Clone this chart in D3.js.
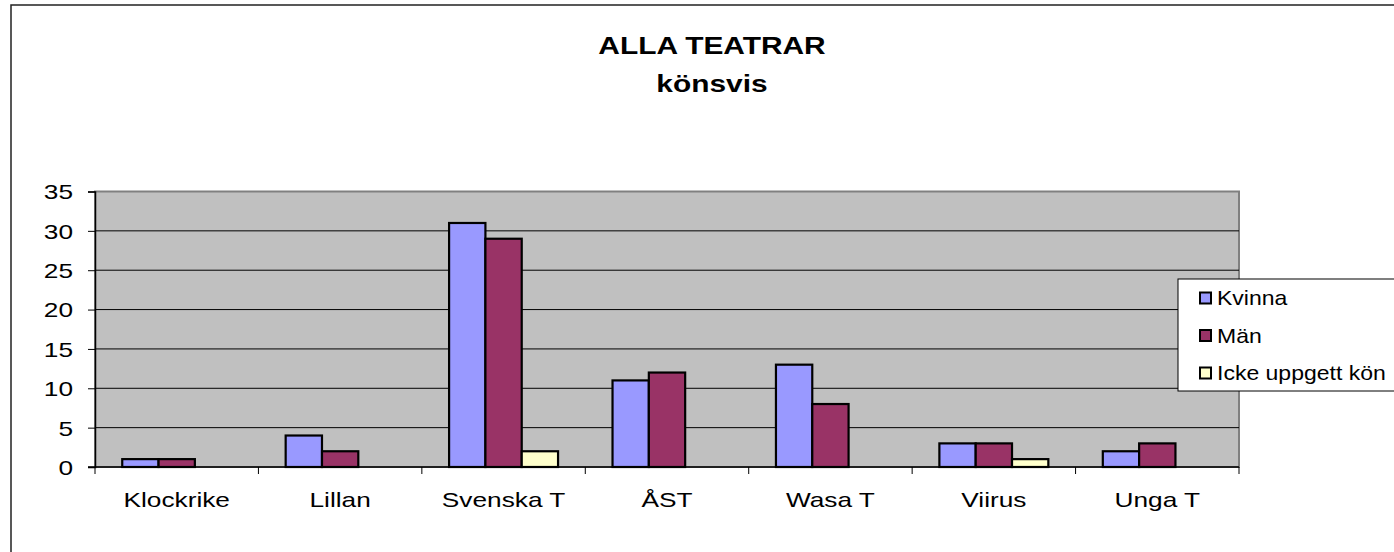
<!DOCTYPE html>
<html>
<head>
<meta charset="utf-8">
<script src="https://cdn.jsdelivr.net/npm/d3@7"></script>
<style>
  html, body { margin: 0; padding: 0; background: #ffffff; }
  svg { display: block; }
  text { font-family: "Liberation Sans", Arial, sans-serif; fill: #000; }
</style>
</head>
<body>
<svg id="chart" width="1394" height="552"></svg>
<script>
const categories = ["Klockrike", "Lillan", "Svenska T", "ÅST", "Wasa T", "Viirus", "Unga T"];
const seriesNames = ["Kvinna", "Män", "Icke uppgett kön"];
const kvinna = [1, 4, 31, 11, 13, 3, 2];
const man = [1, 2, 29, 12, 8, 3, 3];
const ickeUppgett = [0, 0, 2, 0, 0, 1, 0];
const yTicks = [0, 5, 10, 15, 20, 25, 30, 35];
const titleLines = ["ALLA TEATRAR", "könsvis"];
const colors = ["#9999FF", "#993366", "#FFFFCC"];

const seriesValues = [kvinna, man, ickeUppgett];
const data = categories.map((c, i) => ({
  cat: c,
  vals: seriesNames.map((s, j) => ({ series: s, idx: j, value: seriesValues[j][i] }))
}));

const svg = d3.select("#chart");
const SX = 1.25; // horizontal stretch of the reference's text

// outer chart frame
svg.append("rect").attr("x", 11).attr("y", 5).attr("width", 1400).attr("height", 560)
  .attr("fill", "#fff").attr("stroke", "#222").attr("stroke-width", 1.5);

const plot = { left: 95, right: 1239, top: 191.5, bottom: 467 };

const x = d3.scaleBand().domain(categories).range([plot.left, plot.right]).paddingInner(0).paddingOuter(0);
const inner = d3.scaleBand().domain(seriesNames).range([0, x.bandwidth()]).paddingInner(0).paddingOuter(0.75);
const y = d3.scaleLinear().domain([0, 35]).range([plot.bottom, plot.top]);

// plot background
svg.append("rect").attr("x", plot.left).attr("y", plot.top)
  .attr("width", plot.right - plot.left).attr("height", plot.bottom - plot.top)
  .attr("fill", "#C0C0C0").attr("stroke", "#808080").attr("stroke-width", 2);

// gridlines
svg.append("g").selectAll("line").data(yTicks.filter(t => t > 0 && t < 35)).join("line")
  .attr("x1", plot.left).attr("x2", plot.right)
  .attr("y1", d => y(d)).attr("y2", d => y(d))
  .attr("stroke", "#000").attr("stroke-width", 1);

// y axis
const yAxis = svg.append("g").attr("transform", `translate(${plot.left},0)`)
  .call(d3.axisLeft(y).tickValues(yTicks).tickSize(7).tickPadding(0).tickFormat(d3.format("d")));
yAxis.select(".domain").attr("stroke", "#000").attr("stroke-width", 1.5);
yAxis.selectAll(".tick line").attr("stroke", "#000").attr("stroke-width", 1);
yAxis.selectAll(".tick text")
  .attr("font-size", 21).attr("font-family", "Liberation Sans, Arial, sans-serif")
  .attr("x", null).attr("text-anchor", "end").attr("dy", "0.35em")
  .attr("transform", `translate(-22,0) scale(${SX},1)`);

// bars
const groups = svg.append("g").selectAll("g").data(data).join("g")
  .attr("transform", d => `translate(${x(d.cat)},0)`);
groups.selectAll("rect").data(d => d.vals.filter(v => v.value > 0)).join("rect")
  .attr("x", d => inner(d.series))
  .attr("width", inner.bandwidth())
  .attr("y", d => y(d.value))
  .attr("height", d => y(0) - y(d.value))
  .attr("fill", d => colors[d.idx])
  .attr("stroke", "#000").attr("stroke-width", 2.2);

// x axis
const xAxis = svg.append("g").attr("transform", `translate(0,${plot.bottom})`)
  .call(d3.axisBottom(x).tickSize(0).tickPadding(0));
xAxis.select(".domain").remove();
svg.append("line").attr("x1", plot.left - 7).attr("x2", plot.right)
  .attr("y1", plot.bottom).attr("y2", plot.bottom).attr("stroke", "#000").attr("stroke-width", 1.5);
// category boundary ticks
const bounds = categories.map(c => x(c)).concat([plot.right]);
svg.append("g").selectAll("line").data(bounds).join("line")
  .attr("x1", d => d).attr("x2", d => d)
  .attr("y1", plot.bottom).attr("y2", plot.bottom + 7)
  .attr("stroke", "#000").attr("stroke-width", 1);
xAxis.selectAll(".tick text")
  .attr("font-size", 21).attr("font-family", "Liberation Sans, Arial, sans-serif")
  .attr("y", null).attr("dy", null)
  .attr("transform", `translate(0,40) scale(${SX},1)`);

// title
const title = svg.append("text").attr("text-anchor", "middle")
  .attr("font-weight", "bold").attr("font-size", 23)
  .attr("transform", `translate(712,0) scale(1.3,1)`);
title.selectAll("tspan").data(titleLines).join("tspan")
  .attr("x", 0).attr("y", (d, i) => 54 + i * 38).text(d => d);

// legend
const lg = svg.append("g");
lg.append("rect").attr("x", 1178).attr("y", 279).attr("width", 240).attr("height", 112)
  .attr("fill", "#fff").attr("stroke", "#000").attr("stroke-width", 1);
const items = lg.selectAll("g.item").data(seriesNames).join("g").attr("class", "item")
  .attr("transform", (d, i) => `translate(1199,${298 + i * 37.5})`);
items.append("rect").attr("x", 1).attr("y", -5.5).attr("width", 11).attr("height", 11)
  .attr("fill", (d, i) => colors[i]).attr("stroke", "#000").attr("stroke-width", 2);
items.append("text").attr("font-size", 20).attr("dy", "0.35em")
  .attr("transform", `translate(18,0) scale(1.15,1)`).text(d => d);
</script>
</body>
</html>
